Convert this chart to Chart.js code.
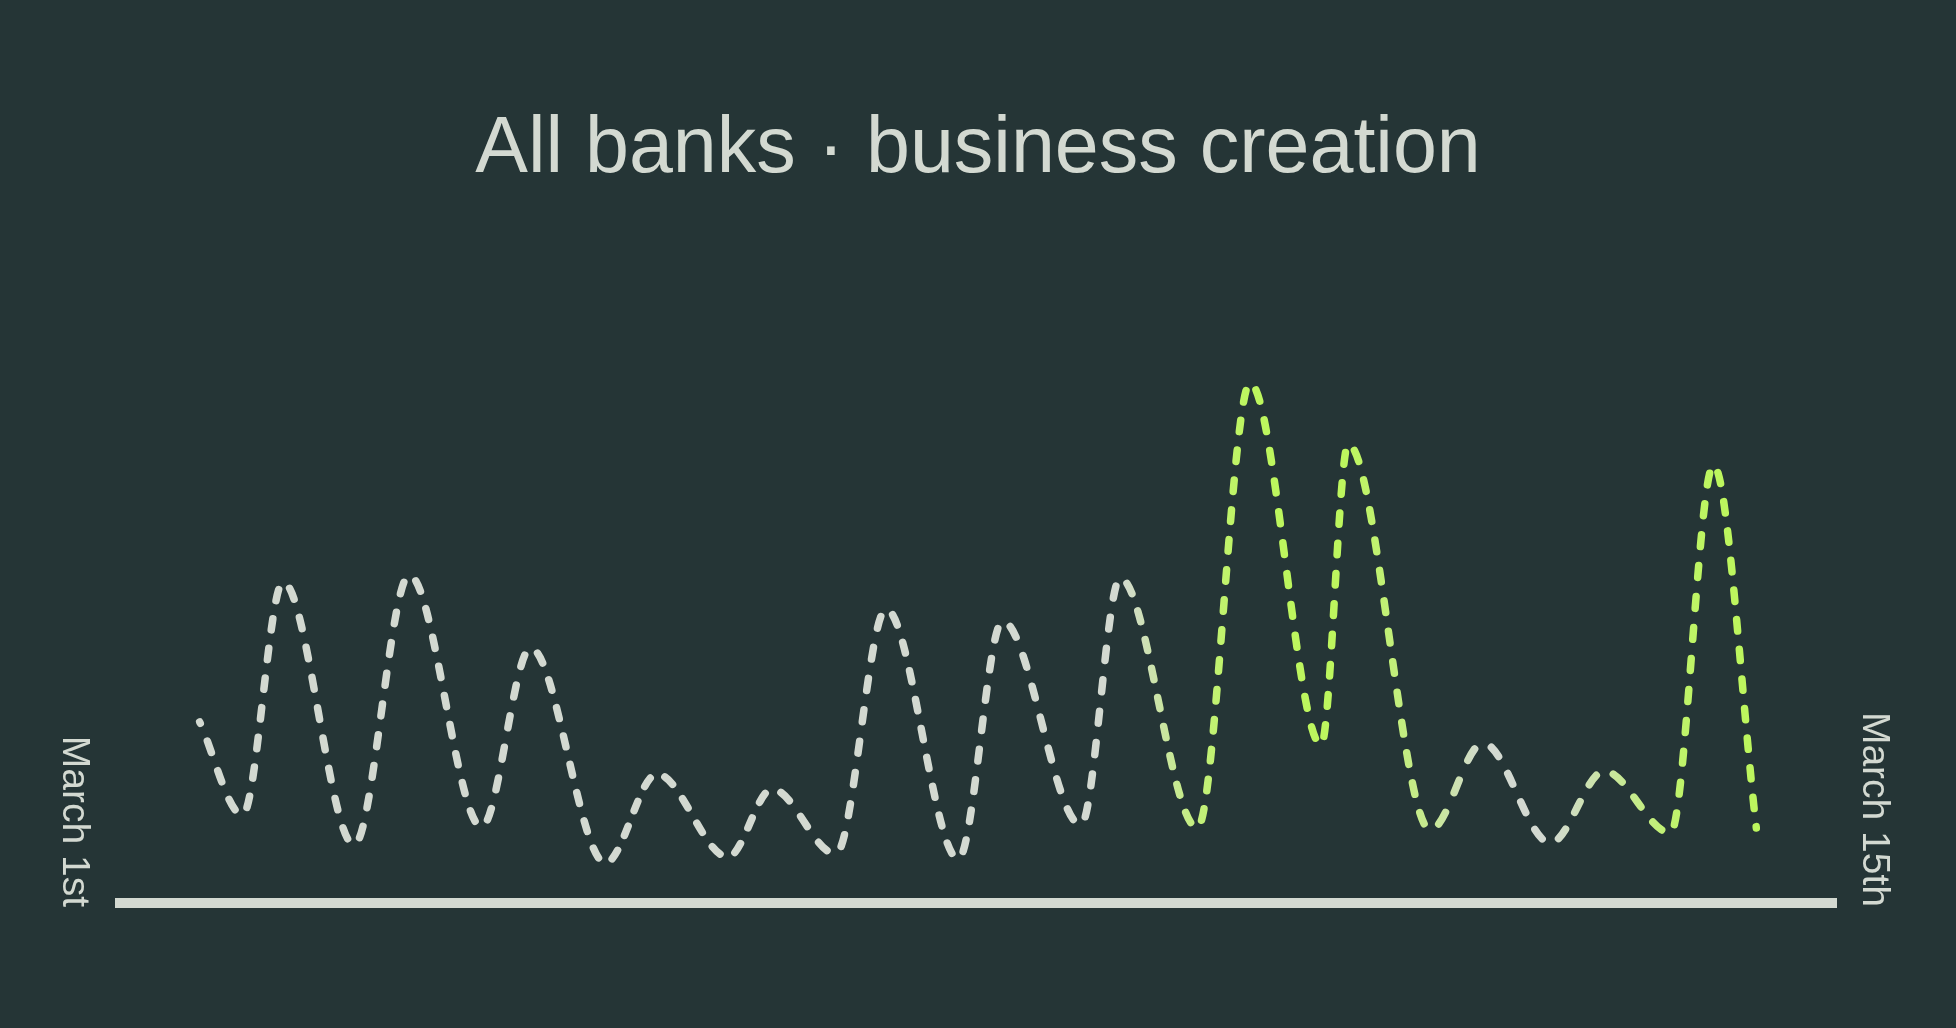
<!DOCTYPE html>
<html>
<head>
<meta charset="utf-8">
<title>All banks · business creation</title>
<script src="https://cdn.jsdelivr.net/npm/chart.js@4.4.1/dist/chart.umd.min.js"></script>
<style>
  html, body { margin: 0; padding: 0; background: #253536; }
  #wrap { width: 1956px; height: 1028px; }
</style>
</head>
<body>
<div id="wrap"><canvas id="creation-chart"></canvas></div>
<script>
const chartTitle = 'All banks · business creation';
const dayLabels = ['March 1st', 'March 15th'];

// day of March (fractional), businesses created, share from new banks
const days = [1.65, 2.00, 2.33, 2.91, 3.36, 3.95, 4.35, 4.96, 5.38, 5.96, 6.32, 6.84, 7.25, 7.84,
  8.20, 8.84, 9.16, 9.79, 10.22, 10.80, 11.02, 11.69, 12.12, 12.67, 13.11, 13.65, 14.00, 14.35];
const created = [18.1, 8.8, 32.1, 5.8, 32.8, 7.6, 25.5, 4.0, 12.9, 4.6, 11.4, 4.9, 29.4, 4.4,
  28.2, 7.8, 32.5, 7.5, 52.0, 15.8, 45.9, 7.3, 16.0, 6.0, 13.2, 7.0, 43.8, 7.5];
const newBankShare = [0, 0, 0, 0, 0, 0, 0, 0, 0, 0, 0, 0, 0, 0,
  0, 0, 0, 0.75, 1, 1, 1, 0.55, 0, 0, 0.4, 0.85, 1, 1];

const gray = [211, 217, 209];
const lime = [189, 246, 94];
const dashOn = 11.5;
const dashOff = 18.5;

function mix(t) {
  const c = gray.map((g, i) => Math.round(g + (lime[i] - g) * t));
  return 'rgb(' + c.join(',') + ')';
}

function lineGradient(context) {
  const chart = context.chart;
  const { ctx, chartArea, scales } = chart;
  if (!chartArea || !scales.x) return mix(0);
  const w = chartArea.right - chartArea.left;
  const g = ctx.createLinearGradient(chartArea.left, 0, chartArea.right, 0);
  days.forEach((d, i) => {
    const stop = (scales.x.getPixelForValue(d) - chartArea.left) / w;
    g.addColorStop(Math.min(1, Math.max(0, stop)), mix(newBankShare[i]));
  });
  return g;
}

// length of one curved piece, so every piece holds whole dashes and
// the gaps land on the peaks and dips
function pieceLength(seg) {
  const a = seg.p0, b = seg.p1;
  const dx = b.x - a.x;
  const c1x = a.cp2x !== undefined ? a.cp2x : a.x + dx / 3;
  const c1y = a.cp2y !== undefined ? a.cp2y : a.y;
  const c2x = b.cp1x !== undefined ? b.cp1x : b.x - dx / 3;
  const c2y = b.cp1y !== undefined ? b.cp1y : b.y;
  let len = 0, px = a.x, py = a.y;
  for (let s = 1; s <= 60; s++) {
    const t = s / 60, u = 1 - t;
    const x = u * u * u * a.x + 3 * u * u * t * c1x + 3 * u * t * t * c2x + t * t * t * b.x;
    const y = u * u * u * a.y + 3 * u * u * t * c1y + 3 * u * t * t * c2y + t * t * t * b.y;
    len += Math.hypot(x - px, y - py);
    px = x; py = y;
  }
  return len;
}

// first and last pieces start / end on a short stub, the rest on half a gap
function dashPlan(seg) {
  const period = dashOn + dashOff;
  const midGap = dashOn + dashOff / 2;
  const stub = 1.5;
  let start = midGap;
  let extra = 0;
  if (seg.p0DataIndex === 0) {
    start = dashOn - stub;
    extra += midGap - start;
  }
  if (seg.p1DataIndex === days.length - 1) {
    extra += dashOff / 2 + stub;
  }
  const len = pieceLength(seg);
  const n = Math.max(0, Math.round((len - extra) / period));
  const k = len / (extra + n * period);
  return { k, offset: start * k };
}

// title on top, date labels turned on their side at both ends of the axis
const textPlugin = {
  id: 'textPlugin',
  afterDraw(chart) {
    const { ctx, chartArea } = chart;
    ctx.save();
    ctx.fillStyle = mix(0);
    ctx.font = '79px "Liberation Sans", Arial, sans-serif';
    ctx.textAlign = 'center';
    ctx.textBaseline = 'alphabetic';
    ctx.fillText(chartTitle, chart.width / 2, 172);

    ctx.font = '39px "Liberation Sans", Arial, sans-serif';
    ctx.textAlign = 'right';
    const spots = [chartArea.left - 57, chartArea.right + 27];
    dayLabels.forEach((label, i) => {
      ctx.save();
      ctx.translate(spots[i], chartArea.bottom + 4);
      ctx.rotate(Math.PI / 2);
      ctx.fillText(label, 0, 0);
      ctx.restore();
    });
    ctx.restore();
  }
};

const ctx = document.getElementById('creation-chart').getContext('2d');
new Chart(ctx, {
  type: 'line',
  data: {
    datasets: [{
      data: days.map((d, i) => ({ x: d, y: created[i] })),
      borderColor: lineGradient,
      borderWidth: 7.5,
      borderDash: [dashOn, dashOff],
      borderCapStyle: 'round',
      borderJoinStyle: 'round',
      cubicInterpolationMode: 'monotone',
      pointRadius: 0,
      fill: false,
      segment: {
        borderDash: seg => {
          const k = dashPlan(seg).k;
          return [dashOn * k, dashOff * k];
        },
        borderDashOffset: seg => dashPlan(seg).offset
      }
    }]
  },
  options: {
    responsive: true,
    maintainAspectRatio: false,
    animation: false,
    layout: { padding: { top: 303, bottom: 125, left: 120, right: 120 } },
    scales: {
      x: {
        type: 'linear',
        min: 1,
        max: 15,
        grid: { display: false, drawTicks: false, tickLength: 0 },
        ticks: { display: false },
        border: { display: true, color: mix(0), width: 10 }
      },
      y: { display: false, min: 0, max: 60 }
    },
    plugins: {
      legend: { display: false },
      tooltip: { enabled: false }
    }
  },
  plugins: [textPlugin]
});
</script>
</body>
</html>
